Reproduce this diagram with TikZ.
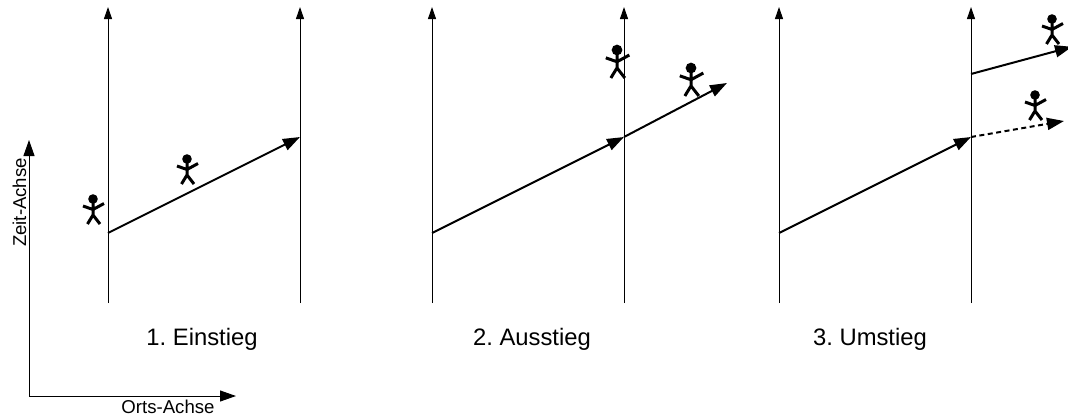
\documentclass[tikz,border=0pt]{standalone}
\usepackage{fontspec}
\setmainfont{Liberation Sans}
\usetikzlibrary{arrows.meta}
\tikzset{
  x=1pt,y=-1pt,
  timeline/.style={draw=black,line width=1pt,-{Triangle[length=12pt,width=8pt]}},
  trip/.style={draw=black,line width=2pt,-{Triangle[length=17pt,width=12pt]}},
  tripdash/.style={trip,dash pattern=on 5pt off 3.5pt},
  axisline/.style={draw=black,line width=1pt,-{Triangle[length=16pt,width=11pt]}},
  biglabel/.style={font=\fontsize{23.8}{26}\selectfont,inner sep=0pt,anchor=center},
  smalllabel/.style={font=\fontsize{18.6}{20}\selectfont,inner sep=0pt,anchor=center},
  person/.pic={
    \fill[black] (0,0) circle[radius=4.8];
    \draw[black,line width=3pt,line join=round]
      (0,0) -- (0,16) (-10,7) -- (0,10.5) -- (11,4.5) (-5.5,25) -- (0,16) -- (7,25);
  }
}
\begin{document}
\frenchspacing
\begin{tikzpicture}
\useasboundingbox (0,0) rectangle (1068,418);
% timelines
\foreach \n/\x in {a/108,b/300,c/432,d/624,e/779,f/971}{
  \coordinate (\n0) at (\x,303);
  \coordinate (\n1) at (\x,7);
  \path[timeline] (\n0) -- (\n1);
}
% trips
\coordinate (t1s) at (108,233);
\coordinate (t1e) at (300,137);
\path[trip] (t1s) -- (t1e);
\coordinate (t2s) at (432,233);
\coordinate (t2e) at (624,137);
\coordinate (t2x) at (727,83);
\path[trip] (t2s) -- (t2e);
\path[trip] (t2e) -- (t2x);
\coordinate (t3s) at (779,233);
\coordinate (t3e) at (971,137);
\coordinate (t3x) at (1064,121);
\coordinate (t4s) at (971,74);
\coordinate (t4e) at (1072,46.8);
\path[trip] (t3s) -- (t3e);
\path[tripdash] (t3e) -- (t3x);
\path[trip] (t4s) -- (t4e);
% main axes
\coordinate (o) at (29,396);
\coordinate (ox) at (236,396);
\coordinate (oy) at (29,140);
\path[axisline] (o) -- (ox);
\path[axisline] (o) -- (oy);
% people
\foreach \n/\x/\y/\s in {p1/93/199/1,p2/187/159/1,p3/617/50/1.12,p4/691/68/1.12,p5/1052/19/1,p6/1035/95/1}{
  \pic[scale=\s] (\n) at (\x,\y) {person};
}
% labels
\node[biglabel] (l1) at (202,339) {1. Einstieg};
\node[biglabel] (l2) at (532,339) {2. Ausstieg};
\node[biglabel] (l3) at (870,339) {3. Umstieg};
\node[smalllabel] (lx) at (168,407) {Orts-Achse};
\node[smalllabel,rotate=90] (ly) at (19.5,202.5) {Zeit-Achse};
\end{tikzpicture}
\end{document}
